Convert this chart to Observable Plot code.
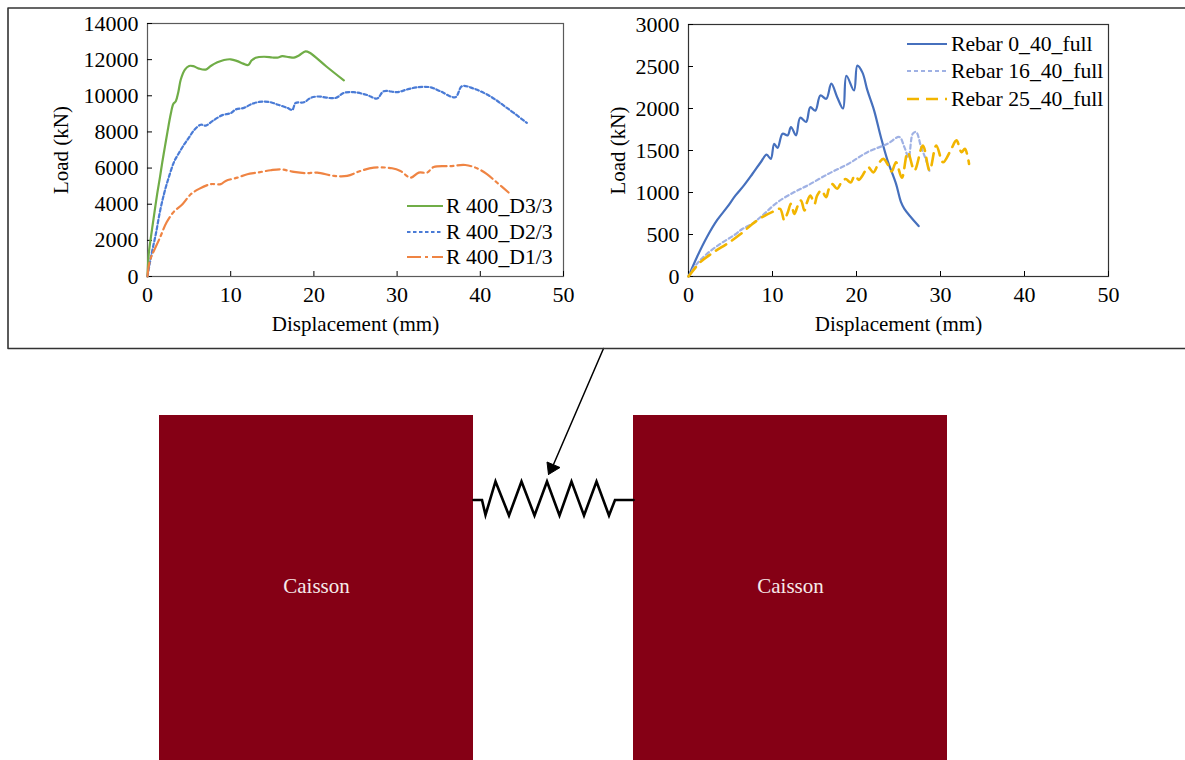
<!DOCTYPE html>
<html><head><meta charset="utf-8">
<script src="https://cdn.jsdelivr.net/npm/d3@7"></script>
<script src="https://cdn.jsdelivr.net/npm/@observablehq/plot@0.6"></script>
<style>
body{margin:0;background:#fff;}
#fig{position:relative;width:1185px;height:760px;overflow:hidden;background:#fff;font-family:"Liberation Serif","Times New Roman",serif;}
#fig svg{position:absolute;}
.leg{position:absolute;font-size:21.7px;height:24px;line-height:24px;color:#000;white-space:nowrap;}
</style></head><body><div id="fig"></div>
<script>
// ---------- data: left chart (R 400 series) ----------
const xTicks = [0, 10, 20, 30, 40, 50];
const yTicksLeft = [0, 2000, 4000, 6000, 8000, 10000, 12000, 14000];
const yTicksRight = [0, 500, 1000, 1500, 2000, 2500, 3000];
const xTitle = "Displacement (mm)";
const yTitle = "Load (kN)";

const r400D33 = [[0,0],[0.15,1250],[0.45,2300],[0.76,3300],[1.16,4560],[1.5,5500],[1.77,6300],[2.1,7200],[2.4,8000],[2.8,9000],[3.1,9550],[3.4,9700],[3.7,10200],[4.0,10900],[4.5,11450],[5.0,11650],[5.5,11640],[6.2,11500],[7.0,11450],[7.6,11650],[8.4,11850],[9.2,11980],[10.0,12020],[10.8,11920],[11.5,11780],[12.1,11700],[12.5,11950],[13.0,12100],[14.0,12160],[15.0,12120],[15.6,12110],[16.2,12190],[17.0,12140],[17.6,12110],[18.2,12230],[19.0,12460],[19.5,12380],[21.5,11620],[23.6,10850]];
const r400D23 = [[0,0],[0.2,550],[0.6,1500],[1.0,2350],[1.5,3600],[2.0,4600],[2.5,5400],[3.2,6350],[3.8,6850],[4.4,7300],[5.0,7700],[5.6,8100],[6.4,8400],[7.0,8350],[7.8,8600],[9.0,8930],[10.0,9040],[10.6,9240],[11.6,9330],[12.4,9520],[13.4,9660],[14.6,9660],[15.6,9520],[16.8,9330],[17.4,9220],[17.8,9600],[18.8,9640],[19.6,9880],[20.4,9960],[22.6,9880],[23.6,10160],[24.8,10200],[26.4,10040],[27.6,9850],[28.4,10250],[30.0,10200],[31.2,10350],[32.4,10470],[34.0,10470],[35.2,10250],[37.0,9920],[37.8,10530],[39.2,10400],[41.2,9970],[43.2,9330],[45.6,8500]];
const r400D13 = [[0,0],[0.2,700],[0.5,1150],[0.8,1450],[1.5,2150],[2.3,3000],[3.2,3600],[4.2,4000],[5.2,4550],[6.2,4850],[7.6,5110],[8.8,5110],[9.4,5290],[10.8,5470],[12.0,5660],[13.2,5750],[14.8,5880],[16.0,5930],[17.6,5790],[19.0,5720],[20.4,5750],[22.4,5570],[24.0,5570],[25.6,5840],[27.2,6020],[29.4,5990],[30.4,5840],[31.6,5470],[32.6,5750],[33.6,5750],[34.4,6060],[36.4,6110],[38.2,6170],[39.6,5990],[40.8,5660],[42.0,5200],[43.4,4650]];

// ---------- data: right chart (Rebar series) ----------
const rebar0 = [[0,0],[1.0,230],[2.2,470],[3.4,670],[4.6,825],[5.6,965],[6.6,1085],[7.6,1220],[8.6,1360],[9.3,1450],[9.8,1400],[10.2,1580],[10.6,1530],[11.2,1700],[11.8,1680],[12.2,1780],[12.8,1680],[13.3,1890],[14.0,1840],[14.5,2015],[15.1,1975],[15.7,2155],[16.4,2115],[17.0,2295],[17.7,2135],[18.4,2000],[18.8,2390],[19.7,2215],[20.1,2510],[20.7,2430],[21.3,2215],[22.1,1975],[22.9,1660],[23.7,1380],[24.7,1105],[25.3,885],[25.7,805],[27.4,600]];
const rebar16 = [[0,0],[1.0,150],[2.2,270],[3.8,390],[5.4,490],[6.4,565],[7.6,630],[9.0,745],[10.6,885],[12.6,1005],[14.2,1085],[16.6,1220],[19.0,1340],[21.3,1480],[23.7,1580],[25.1,1660],[25.7,1540],[26.2,1420],[26.7,1700],[27.1,1720],[27.7,1540],[28.3,1380],[28.7,1250]];
const rebar25 = [[0,0],[1.4,170],[3.0,290],[4.6,390],[6.2,505],[7.6,625],[9.0,720],[10.0,770],[10.9,805],[11.4,670],[11.8,760],[12.2,865],[12.6,745],[13.0,840],[13.4,905],[13.8,785],[14.1,880],[14.5,965],[15.0,865],[15.3,960],[15.8,1025],[16.4,945],[16.7,1040],[17.1,1100],[17.7,1045],[18.2,1120],[18.7,1160],[19.3,1120],[19.8,1200],[20.3,1150],[20.7,1200],[21.4,1300],[22.0,1240],[22.6,1340],[23.2,1400],[23.8,1320],[24.2,1250],[24.7,1360],[25.4,1175],[26.1,1480],[26.9,1262],[27.9,1560],[28.7,1262],[29.5,1560],[30.3,1360],[31.2,1500],[31.9,1620],[32.5,1480],[32.9,1520],[33.4,1340]];

const leftNames = ["R 400_D3/3", "R 400_D2/3", "R 400_D1/3"];
const rightNames = ["Rebar 0_40_full", "Rebar 16_40_full", "Rebar 25_40_full"];

// ---------- diagram geometry ----------
const caissonLabel = "Caisson";
const caissons = [
  {x1: 159, x2: 473, y1: 415, y2: 775, ty: 586},
  {x1: 633, x2: 947, y1: 415, y2: 775, ty: 586}
];
const springPts = [[473,499.5],[481.5,499.5],[485,514.5],[495,481],[508.5,515],[521,481],[534,515],[546.5,481],[559,515],[571,481],[583.5,515],[596,481],[608.5,515],[614.5,499.5],[633,499.5]];
const arrowLine = [[603,348],[553,464]];
const arrowHead = [[548,474],[546.5,461.5],[559.5,467],[548,474]];
const outerFrame = [[1195,7.5],[7.5,7.5],[7.5,348],[1195,348]];

// ---------- styles ----------
const leftStyles = [
  {data: r400D33, color: "#70ad47", width: 2.2, dash: null},
  {data: r400D23, color: "#4a7bd6", width: 2.2, dash: "3.5,2.5"},
  {data: r400D13, color: "#ef8443", width: 2.2, dash: "14,4,3,4"}
];
const rightStyles = [
  {data: rebar0, color: "#4670bd", width: 2.2, dash: null},
  {data: rebar16, color: "#9fb1e4", width: 2.2, dash: "4,3"},
  {data: rebar25, color: "#f2b500", width: 2.6, dash: "12,7"}
];
const FONT = "Liberation Serif";

const fig = d3.select("#fig");

// Diagram layer
const diagram = Plot.plot({
  width: 1185, height: 760, margin: 0,
  x: {domain: [0, 1185], range: [0, 1185], axis: null},
  y: {domain: [0, 760], range: [0, 760], axis: null},
  style: {background: "transparent", fontFamily: FONT},
  marks: [
    Plot.rect(caissons, {x1: "x1", x2: "x2", y1: "y1", y2: "y2", fill: "#850015"}),
    Plot.text(caissons, {x: d => (d.x1 + d.x2) / 2, y: "ty", text: () => caissonLabel, fill: "#f6eaea", fontSize: 21, fontFamily: FONT}),
    Plot.line(springPts, {x: d => d[0], y: d => d[1], stroke: "#000", strokeWidth: 2.6, strokeLinejoin: "miter", strokeMiterlimit: 10}),
    Plot.line(arrowLine, {x: d => d[0], y: d => d[1], stroke: "#000", strokeWidth: 1.5}),
    Plot.line(arrowHead, {x: d => d[0], y: d => d[1], stroke: "#000", strokeWidth: 1, fill: "#000"}),
    Plot.line(outerFrame, {x: d => d[0], y: d => d[1], stroke: "#333", strokeWidth: 1.6})
  ]
});
diagram.style.left = "0px"; diagram.style.top = "0px";
fig.node().appendChild(diagram);

function chart({styles, yDomain, yTicks, left, ml, mr, mt, mb, frameColor, titleDx}) {
  const w = 600, h = 350;
  const marks = [
    Plot.frame({stroke: frameColor, strokeWidth: 1.2}),
    Plot.axisX({ticks: xTicks, tickSize: -5, tickFormat: () => "", label: null}),
    Plot.axisX({ticks: xTicks, tickSize: 0, tickPadding: 10, label: null, fontSize: 22}),
    Plot.axisY({ticks: yTicks, tickSize: -5, tickFormat: () => "", label: null}),
    Plot.axisY({ticks: yTicks, tickSize: 0, tickPadding: 9, label: null, fontSize: 22, tickFormat: d => String(d)}),
    Plot.text([xTitle], {frameAnchor: "bottom", dy: 54, text: d => d, fontSize: 21}),
    Plot.text([yTitle], {frameAnchor: "left", dx: titleDx, rotate: -90, textAnchor: "middle", lineAnchor: "middle", text: d => d, fontSize: 21})
  ];
  styles.forEach(s => {
    marks.push(Plot.line(s.data, {x: d => d[0], y: d => d[1], stroke: s.color, strokeWidth: s.width, strokeDasharray: s.dash, curve: "catmull-rom"}));
  });
  const p = Plot.plot({
    width: w, height: h, marginLeft: ml, marginRight: mr, marginTop: mt, marginBottom: mb,
    x: {domain: [0, 50]},
    y: {domain: yDomain},
    style: {background: "transparent", fontFamily: FONT, fontSize: "22px", color: "#000", overflow: "visible"},
    marks
  });
  p.style.left = left + "px"; p.style.top = "0px";
  fig.node().appendChild(p);
}

chart({styles: leftStyles, yDomain: [0, 14000], yTicks: yTicksLeft, left: 0, ml: 147, mr: 37, mt: 23, mb: 74, frameColor: "#5a5a5a", titleDx: -86});
chart({styles: rightStyles, yDomain: [0, 3000], yTicks: yTicksRight, left: 560, ml: 128, mr: 52, mt: 24, mb: 74, frameColor: "#333", titleDx: -70});

function legend(names, styles, x0, x1, tx, ys) {
  names.forEach((name, i) => {
    const s = styles[i];
    const svg = fig.append("svg").attr("width", x1 - x0).attr("height", 10)
      .style("left", x0 + "px").style("top", (ys[i] - 5) + "px");
    svg.append("line").attr("x1", 0).attr("x2", x1 - x0).attr("y1", 5).attr("y2", 5)
      .attr("stroke", s.color).attr("stroke-width", s.width)
      .attr("stroke-dasharray", s.dash);
    fig.append("div").attr("class", "leg").style("left", tx + "px").style("top", (ys[i] - 12) + "px").text(name);
  });
}
legend(leftNames, leftStyles, 407, 443, 446, [206, 232, 257]);
legend(rightNames, rightStyles, 907, 947, 951, [44, 71, 99]);
</script></body></html>
